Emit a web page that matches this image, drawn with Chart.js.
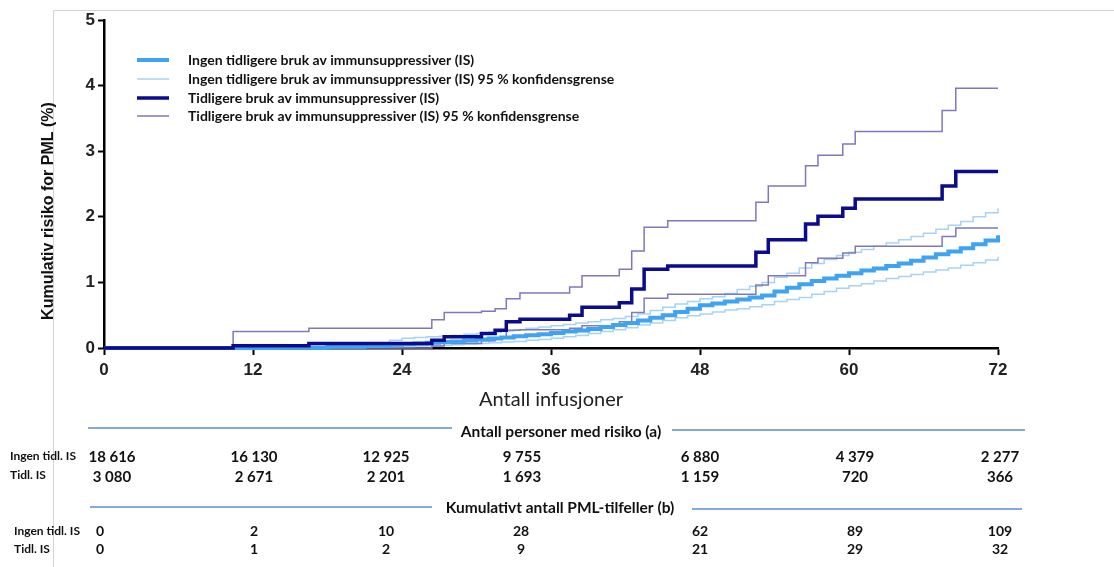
<!DOCTYPE html>
<html lang="no">
<head>
<meta charset="UTF-8">
<title>Kumulativ risiko for PML</title>
<script src="https://cdn.jsdelivr.net/npm/chart.js"></script>
<style>
  body { margin: 0; background: #fff; }
  .wrap { position: relative; width: 1114px; height: 567px; }
</style>
</head>
<body>
<div class="wrap"><canvas id="pmlChart" width="1114" height="567"></canvas></div>
<script>
// --- data ---
const seriesNames = [
  'Ingen tidligere bruk av immunsuppressiver (IS)',
  'Ingen tidligere bruk av immunsuppressiver (IS) 95 % konfidensgrense',
  'Tidligere bruk av immunsuppressiver (IS)',
  'Tidligere bruk av immunsuppressiver (IS) 95 % konfidensgrense'
];
const xTicks = [0, 12, 24, 36, 48, 60, 72];
const yTicks = [0, 1, 2, 3, 4, 5];

// no previous IS: step positions (infusions) and cumulative risk (%)
const noIsX = [0, 14, 18, 21, 23,
  24, 25, 26, 27, 28, 29, 30, 31, 32, 33,
  34, 35, 36, 37, 38, 39, 40, 41, 42, 43,
  44, 45, 46, 47, 48, 49, 50, 51, 52, 53,
  54, 55, 56, 57, 58, 59, 60, 61, 62, 63,
  64, 65, 66, 67, 68, 69, 70, 71, 72];
const noIsRisk = [0, 0.005, 0.02, 0.03, 0.05,
  0.06, 0.07, 0.08, 0.09, 0.10, 0.115, 0.13, 0.145, 0.16, 0.18,
  0.195, 0.21, 0.23, 0.25, 0.265, 0.29, 0.32, 0.35, 0.38, 0.42,
  0.46, 0.50, 0.55, 0.60, 0.65, 0.68, 0.71, 0.74, 0.77, 0.80,
  0.86, 0.92, 0.97, 1.02, 1.06, 1.10, 1.14, 1.18, 1.21, 1.25,
  1.29, 1.33, 1.38, 1.43, 1.47, 1.52, 1.58, 1.64, 1.72];
const noIsUpper = [0, 0.02, 0.04, 0.07, 0.12,
  0.15, 0.16, 0.17, 0.18, 0.19, 0.21, 0.22, 0.24, 0.26, 0.28,
  0.30, 0.32, 0.34, 0.36, 0.38, 0.40, 0.43, 0.45, 0.48, 0.52,
  0.57, 0.62, 0.67, 0.71, 0.75, 0.78, 0.83, 0.89, 0.94, 1.00,
  1.08, 1.14, 1.22, 1.29, 1.35, 1.41, 1.46, 1.50, 1.55, 1.60,
  1.65, 1.70, 1.75, 1.81, 1.87, 1.93, 2.00, 2.06, 2.13];
const noIsLower = [0, 0, 0.005, 0.01, 0.015,
  0.02, 0.03, 0.035, 0.04, 0.05, 0.06, 0.07, 0.08, 0.09, 0.10,
  0.12, 0.13, 0.15, 0.17, 0.19, 0.22, 0.25, 0.28, 0.31, 0.35,
  0.38, 0.42, 0.46, 0.49, 0.52, 0.55, 0.58, 0.60, 0.63, 0.66,
  0.71, 0.74, 0.77, 0.82, 0.86, 0.91, 0.95, 0.98, 1.02, 1.06,
  1.09, 1.12, 1.16, 1.19, 1.22, 1.26, 1.30, 1.34, 1.39];

// previous IS
const isX = [0, 10.4, 16.5, 26.4, 27.4, 30.4, 31.5, 32.4, 33.5, 37.5, 38.5, 41.5,
  42.5, 43.5, 45.4, 52.5, 53.5, 56.5, 57.5, 59.5, 60.5, 67.5, 68.6, 72];
const isRisk = [0, 0.035, 0.07, 0.12, 0.17, 0.22, 0.27, 0.40, 0.44, 0.50, 0.62, 0.69,
  0.90, 1.20, 1.25, 1.46, 1.65, 1.89, 2.01, 2.13, 2.27, 2.47, 2.69, 2.69];
const isUpper = [0, 0.25, 0.30, 0.43, 0.54, 0.56, 0.60, 0.75, 0.84, 0.93, 1.10, 1.20,
  1.48, 1.84, 1.94, 2.22, 2.47, 2.78, 2.94, 3.11, 3.30, 3.62, 3.96, 3.96];
const isLower = [0, 0, 0, 0.03, 0.07, 0.11, 0.15, 0.27, 0.28, 0.30, 0.34, 0.40,
  0.54, 0.76, 0.82, 0.96, 1.10, 1.30, 1.37, 1.45, 1.55, 1.70, 1.83, 1.83];

// table below the plot
const rowLabels = ['Ingen tidl. IS', 'Tidl. IS'];
const atRiskNoIs = ['18 616', '16 130', '12 925', '9 755', '6 880', '4 379', '2 277'];
const atRiskIs = ['3 080', '2 671', '2 201', '1 693', '1 159', '720', '366'];
const casesNoIs = ['0', '2', '10', '28', '62', '89', '109'];
const casesIs = ['0', '1', '2', '9', '21', '29', '32'];

const colNoIs = '#3da3f2';
const colNoIsCi = '#a6d3f5';
const colIs = '#0b0b8e';
const colIsCi = '#7f78bc';

function pts(xs, ys) {
  return xs.map((x, i) => ({ x: x, y: ys[i] }));
}

const extras = {
  id: 'extras',
  beforeDraw(chart) {
    const ctx = chart.ctx;
    ctx.save();
    ctx.strokeStyle = '#d4d4d4';
    ctx.lineWidth = 1;
    ctx.beginPath();
    ctx.moveTo(53.5, 567);
    ctx.lineTo(53.5, 10.5);
    ctx.lineTo(1114, 10.5);
    ctx.stroke();
    ctx.restore();
  },
  afterDraw(chart) {
    const ctx = chart.ctx;
    ctx.save();

    // legend
    const legY = [60, 79, 98, 116];
    const legW = [4, 1.5, 3.5, 1.5];
    const legC = [colNoIs, colNoIsCi, colIs, colIsCi];
    ctx.font = 'bold 14px Lato';
    ctx.textBaseline = 'middle';
    ctx.textAlign = 'left';
    for (let i = 0; i < 4; i++) {
      ctx.strokeStyle = legC[i];
      ctx.lineWidth = legW[i];
      ctx.beginPath();
      ctx.moveTo(137, legY[i]);
      ctx.lineTo(169, legY[i]);
      ctx.stroke();
      ctx.fillStyle = '#111';
      ctx.fillText(seriesNames[i], 188, legY[i]);
    }

    // y title
    ctx.save();
    ctx.translate(49, 211);
    ctx.rotate(-Math.PI / 2);
    ctx.textAlign = 'center';
    ctx.font = 'bold 16px "Liberation Sans"';
    ctx.fillStyle = '#111';
    ctx.fillText('Kumulativ risiko for PML (%)', 0, 0);
    ctx.restore();

    // x title
    ctx.textAlign = 'center';
    ctx.font = '20px Lato';
    ctx.fillStyle = '#222';
    ctx.fillText('Antall infusjoner', 551, 400);

    // table
    ctx.strokeStyle = '#5b8fd0';
    ctx.lineWidth = 1.5;
    ctx.beginPath();
    ctx.moveTo(88, 428); ctx.lineTo(452, 428);
    ctx.moveTo(672, 430); ctx.lineTo(1025, 430);
    ctx.moveTo(90, 507); ctx.lineTo(432, 507);
    ctx.moveTo(692, 509); ctx.lineTo(1022, 509);
    ctx.stroke();

    ctx.fillStyle = '#111';
    ctx.font = 'bold 15.5px Lato';
    ctx.fillText('Antall personer med risiko (a)', 561, 432);
    ctx.fillText('Kumulativt antall PML-tilfeller (b)', 560, 508);

    const colX = [112, 254, 386, 522, 700, 855, 1000];
    const colX2 = [100, 254, 386, 521, 700, 855, 1000];
    ctx.font = 'bold 15px Lato';
    colX.forEach((x, i) => {
      ctx.fillText(atRiskNoIs[i], x, 457);
      ctx.fillText(atRiskIs[i], x, 477);
    });
    ctx.font = 'bold 14px Lato';
    colX2.forEach((x, i) => {
      ctx.fillText(casesNoIs[i], x, 531);
      ctx.fillText(casesIs[i], x, 549);
    });

    ctx.textAlign = 'left';
    ctx.font = 'bold 12px Lato';
    ctx.fillText(rowLabels[0], 10, 456);
    ctx.fillText(rowLabels[1], 10, 475);
    ctx.fillText(rowLabels[0], 14, 531);
    ctx.fillText(rowLabels[1], 14, 549);
    ctx.restore();
  }
};

const ctx = document.getElementById('pmlChart').getContext('2d');
new Chart(ctx, {
  type: 'line',
  data: {
    datasets: [
      { label: seriesNames[2], data: pts(isX, isRisk), borderColor: colIs, borderWidth: 3.5, order: 0 },
      { label: seriesNames[0], data: pts(noIsX, noIsRisk), borderColor: colNoIs, borderWidth: 4, order: 1 },
      { label: seriesNames[3], data: pts(isX, isUpper), borderColor: colIsCi, borderWidth: 1.5, order: 2 },
      { label: seriesNames[3], data: pts(isX, isLower), borderColor: colIsCi, borderWidth: 1.5, order: 3 },
      { label: seriesNames[1], data: pts(noIsX, noIsUpper), borderColor: colNoIsCi, borderWidth: 1.5, order: 4 },
      { label: seriesNames[1], data: pts(noIsX, noIsLower), borderColor: colNoIsCi, borderWidth: 1.5, order: 5 }
    ]
  },
  options: {
    responsive: false,
    animation: false,
    clip: false,
    elements: {
      point: { radius: 0 },
      line: { stepped: true, fill: false, borderCapStyle: 'butt' }
    },
    layout: { padding: { left: 40, right: 116, top: 20, bottom: 0 } },
    plugins: {
      legend: { display: false },
      tooltip: { enabled: false }
    },
    scales: {
      x: {
        type: 'linear',
        min: 0,
        max: 72,
        afterFit(scale) { scale.height = 219; },
        afterBuildTicks(scale) { scale.ticks = xTicks.map(v => ({ value: v })); },
        grid: { drawOnChartArea: false, tickLength: 7, tickColor: '#000', tickWidth: 2 },
        border: { color: '#000', width: 2.5 },
        ticks: { color: '#222', padding: 5, font: { family: 'Liberation Sans', size: 17, weight: 'bold' } }
      },
      y: {
        min: 0,
        max: 5,
        afterFit(scale) { scale.width = 64; },
        afterBuildTicks(scale) { scale.ticks = yTicks.map(v => ({ value: v })); },
        grid: { drawOnChartArea: false, tickLength: 6, tickColor: '#000', tickWidth: 2 },
        border: { color: '#000', width: 2.5 },
        ticks: { color: '#222', padding: 3, font: { family: 'Liberation Sans', size: 17, weight: 'bold' } }
      }
    }
  },
  plugins: [extras]
});
</script>
</body>
</html>
